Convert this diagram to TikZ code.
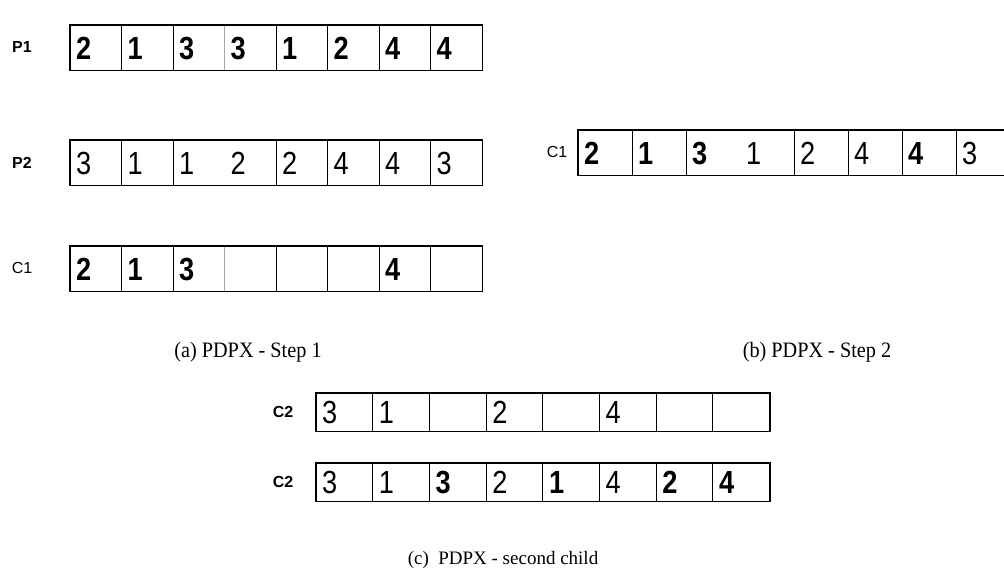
\documentclass[tikz,border=0pt]{standalone}
\usepackage{fontspec}
\setmainfont{Liberation Serif}
\setsansfont{Liberation Sans}
\newfontfamily\numfont[FakeStretch=0.85]{Liberation Sans}
\newfontfamily\capfont[FakeStretch=0.92]{Liberation Serif}
\begin{document}
\begin{tikzpicture}[x=1pt,y=-1pt,
  cell/.style={draw=none,inner sep=0pt,anchor=north west},
  div/.style={line width=0.9pt},
  faintdiv/.style={line width=0.6pt,black!35},
  nodiv/.style={draw=none},
  frame/.style={line width=1.8pt},
  boldnum/.style={font=\numfont\bfseries\fontsize{32}{32}\selectfont,inner sep=0pt},
  plainnum/.style={font=\numfont\fontsize{32}{32}\selectfont,inner sep=0pt},
  blank/.style={inner sep=0pt},
  rowlabel/.style={font=\sffamily\bfseries\fontsize{16}{16}\selectfont,inner sep=0pt},
  thinlabel/.style={font=\sffamily\fontsize{16}{16}\selectfont,inner sep=0pt},
  caption/.style={font=\capfont\fontsize{22}{22}\selectfont,inner sep=0pt},
  widecaption/.style={font=\fontsize{19}{19}\selectfont,inner sep=0pt}]

\useasboundingbox (0,0) rectangle (1004,587);
\clip (0,0) rectangle (1004,587);

% one row of eight cells: name, left x, top y, cell width, cell height, entries
\newcommand\cellrow[6]{%
  \foreach \d/\s/\l [count=\i] in {#6} {
    \node[cell,minimum width=#4pt,minimum height=#5pt] (#1-\i) at ({#2+(\i-1)*#4},#3) {};
    \ifnum\i>1 \draw[\l] (#1-\i.north west) -- (#1-\i.south west);\fi
    \node[\s,anchor=base west] (#1-\i-t) at ([xshift=6pt,yshift=-11.5pt]#1-\i.west) {\d};
  }
  \draw[frame] (#1-1.north west) rectangle (#1-8.south east);
}

% (a) step 1
\node[rowlabel] (lp1) at (22,47) {P1};
\cellrow{pa}{70}{25}{51.5}{45}{2/boldnum/div,1/boldnum/div,3/boldnum/div,3/boldnum/faintdiv,1/boldnum/div,2/boldnum/div,4/boldnum/div,4/boldnum/div}
\node[rowlabel] (lp2) at (22,163) {P2};
\cellrow{pb}{70}{140}{51.5}{45}{3/plainnum/div,1/plainnum/div,1/plainnum/div,2/plainnum/nodiv,2/plainnum/div,4/plainnum/div,4/plainnum/div,3/plainnum/div}
\node[thinlabel] (lc1) at (22,268) {C1};
\cellrow{ca}{70}{246}{51.5}{45}{2/boldnum/div,1/boldnum/div,3/boldnum/div,{}/blank/faintdiv,{}/blank/div,{}/blank/div,4/boldnum/div,{}/blank/div}
\node[caption] (capa) at (248,352) {(a) PDPX - Step 1};

% (b) step 2
\node[thinlabel] (lc1b) at (557,152) {C1};
\cellrow{cb}{578}{130}{54}{45}{2/boldnum/div,1/boldnum/div,3/boldnum/div,1/plainnum/nodiv,2/plainnum/div,4/plainnum/div,4/boldnum/div,3/plainnum/div}
\node[caption] (capb) at (817,352) {(b) PDPX - Step 2};

% (c) second child
\node[rowlabel] (lc2a) at (283,412) {C2};
\cellrow{cc}{316}{393}{56.7}{38}{3/plainnum/div,1/plainnum/div,{}/blank/div,2/plainnum/div,{}/blank/div,4/plainnum/div,{}/blank/div,{}/blank/div}
\node[rowlabel] (lc2b) at (283,482) {C2};
\cellrow{cd}{316}{463}{56.7}{38}{3/plainnum/div,1/plainnum/div,3/boldnum/div,2/plainnum/div,1/boldnum/div,4/plainnum/div,2/boldnum/div,4/boldnum/div}
\node[widecaption] (capc) at (503,560) {(c)~ PDPX - second child};
\end{tikzpicture}
\end{document}
